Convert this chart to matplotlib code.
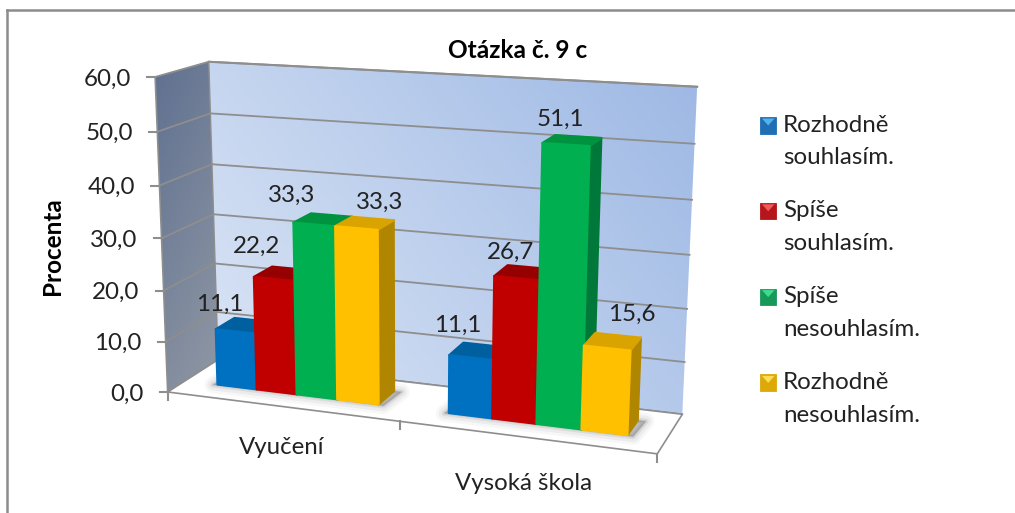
"""Otázka č. 9 c - Excel style 3D column chart, drawn with a small perspective camera."""

import matplotlib
matplotlib.use("Agg")
import matplotlib.pyplot as plt
import numpy as np
from matplotlib.patches import Polygon, Rectangle
from matplotlib.colors import LinearSegmentedColormap

plt.rcParams["font.family"] = ["Lato", "DejaVu Sans"]

categories = ["Vyučení", "Vysoká škola"]
series_names = ["Rozhodně\nsouhlasím.", "Spíše\nsouhlasím.", "Spíše\nnesouhlasím.", "Rozhodně\nnesouhlasím."]
vyuceni = [11.1, 22.2, 33.3, 33.3]
vysoka_skola = [11.1, 26.7, 51.1, 15.6]
y_ticks = [0, 10, 20, 30, 40, 50, 60]

front_colors = ["#0070C0", "#C00000", "#00B050", "#FFC000"]
side_colors = ["#00538F", "#8F0000", "#00783A", "#B08500"]
top_colors = ["#00609F", "#960000", "#00933F", "#D9A300"]
light_colors = ["#55B0EE", "#F25A5A", "#3FDC8C", "#FFDD55"]
swatch_colors = ["#1F6FB5", "#B5161C", "#17995A", "#DDA908"]

# camera calibration: world (x, value, depth) -> picture pixel
WORLD = [(0, 0, 0), (0, 60, 0), (0, 60, 1), (0, 0, 1), (1, 0, 0), (1, 0, 1), (1, 60, 1)]
PIXEL = [(169, 390), (154, 77), (210, 61.5), (216.7, 361.7), (657, 456), (682.7, 412), (697, 87)]


def fit_camera(world, pixel):
    rows = []
    for (x, y, z), (u, v) in zip(world, pixel):
        y = y / 60
        rows.append([x, y, z, 1, 0, 0, 0, 0, -u * x, -u * y, -u * z, -u])
        rows.append([0, 0, 0, 0, x, y, z, 1, -v * x, -v * y, -v * z, -v])
    return np.linalg.svd(np.array(rows))[2][-1].reshape(3, 4)


CAM = fit_camera(WORLD, PIXEL)


def proj(x, y, z):
    p = CAM @ np.array([x, y / 60, z, 1.0])
    return p[0] / p[2], p[1] / p[2]


def gradient_fill(ax, pts, c0, c1, angle):
    pts = np.array(pts)
    x0, y0 = pts.min(axis=0)
    x1, y1 = pts.max(axis=0)
    xx, yy = np.meshgrid(np.linspace(0, 1, 200), np.linspace(0, 1, 200))
    t = xx * np.cos(angle) + (1 - yy) * np.sin(angle)
    t = (t - t.min()) / (t.max() - t.min())
    cmap = LinearSegmentedColormap.from_list("g", [c0, c1])
    im = ax.imshow(t, extent=(x0, x1, y1, y0), cmap=cmap, aspect="auto", zorder=1, interpolation="bilinear")
    clip = Polygon(pts, transform=ax.transData, fc="none", ec="none")
    ax.add_patch(clip)
    im.set_clip_path(clip)


def draw_bar(ax, x0, x1, z0, z1, val, i, zo):
    front = [proj(x0, 0, z0), proj(x1, 0, z0), proj(x1, val, z0), proj(x0, val, z0)]
    side = [proj(x1, 0, z0), proj(x1, 0, z1), proj(x1, val, z1), proj(x1, val, z0)]
    top = [proj(x0, val, z0), proj(x1, val, z0), proj(x1, val, z1), proj(x0, val, z1)]
    ax.add_patch(Polygon(side, fc=side_colors[i], ec=side_colors[i], lw=1.6, joinstyle="round", zorder=zo))
    ax.add_patch(Polygon(top, fc=top_colors[i], ec=top_colors[i], lw=1.6, joinstyle="round", zorder=zo))
    ax.add_patch(Polygon(front, fc=front_colors[i], ec=front_colors[i], lw=1.6, joinstyle="round", zorder=zo + 0.1))


def draw_shadow(ax, x0, x1, z0, z1):
    shadow = [proj(x0 - 0.008, 0, z0 - 0.02), proj(x1 + 0.012, 0, z0 - 0.02), proj(x1 + 0.016, 0, z1), proj(x0, 0, z1)]
    for lw, a in [(12, 0.04), (8, 0.06), (4, 0.09), (1.5, 0.12)]:
        ax.add_patch(Polygon(shadow, fc="#404040", ec="#404040", lw=lw, alpha=a, zorder=3, joinstyle="round"))


fig = plt.figure(figsize=(10.15, 5.13), dpi=100)
ax = fig.add_axes([0, 0, 1, 1])
ax.set_xlim(0, 1015)
ax.set_ylim(513, 0)
ax.axis("off")

# chart frame, only left and top survive in the crop
ax.plot([7, 7], [513, 10], color="#8C8C8C", lw=1.8, zorder=1)
ax.plot([7, 1015], [10, 10], color="#8C8C8C", lw=1.8, zorder=1)

# walls and floor
back = [proj(0, 0, 1), proj(1, 0, 1), proj(1, 60, 1), proj(0, 60, 1)]
left = [proj(0, 0, 0), proj(0, 0, 1), proj(0, 60, 1), proj(0, 60, 0)]
gradient_fill(ax, back, "#DCE6F6", "#9DB8E4", 0.5)
gradient_fill(ax, left, "#9098A4", "#5F7090", 2.0)
gridc = "#8E8E8E"
ax.plot(*zip(proj(0, 60, 1), proj(1, 60, 1)), color=gridc, lw=1.5, zorder=2)
ax.plot(*zip(proj(0, 0, 1), proj(0, 60, 1)), color=gridc, lw=1, zorder=2)
ax.plot(*zip(proj(0, 0, 0), proj(0, 60, 0)), color=gridc, lw=1.2, zorder=2)
for t in y_ticks:
    ax.plot(*zip(proj(0, t, 0), proj(0, t, 1), proj(1, t, 1)), color=gridc, lw=1.3, zorder=2)
    px, py = proj(0, t, 0)
    ax.plot([px - 8, px], [py, py], color=gridc, lw=1.5, zorder=2)
    ax.text(px - 24, py + 2, f"{t:.1f}".replace(".", ","), ha="right", va="center", fontsize=17.4, color="#222222", zorder=5)

# floor
floor = [proj(0, 0, 0), proj(1, 0, 0), proj(1, 0, 1), proj(0, 0, 1)]
ax.add_patch(Polygon(floor, fc="white", ec="none", zorder=2))
ax.plot(*zip(proj(0, 0, 1), proj(1, 0, 1), proj(1, 0, 0), proj(0, 0, 0), proj(0, 0, 1)), color=gridc, lw=1.2, zorder=2.5)
for cx in [0, 0.5, 1]:
    px, py = proj(cx, 0, 0)
    ax.plot([px, px], [py, py + 8], color=gridc, lw=1.5, zorder=2.5)

# bars
gap = 1.66
bar_w = 0.5 / (len(vyuceni) + gap)
z0, z1 = 0.34, 0.72
for g, vals in enumerate([vyuceni, vysoka_skola]):
    start = g * 0.5 + gap * bar_w / 2
    draw_shadow(ax, start, start + 4 * bar_w, z0, z1)
    for i, v in enumerate(vals):
        draw_bar(ax, start + i * bar_w, start + (i + 1) * bar_w, z0, z1, v, i, 4 + g + i * 0.2)

# data labels sit where the original author dragged them
label_xy = [(220, 304), (257, 246), (292, 195), (380, 202), (458, 325), (511, 252), (560, 119), (632, 314)]
for (lx, ly), v in zip(label_xy, vyuceni + vysoka_skola):
    ax.text(lx, ly, f"{v:.1f}".replace(".", ","), ha="center", va="center", fontsize=17.4, color="#222222", zorder=8)

# category labels
ax.text(282, 447, categories[0], ha="center", va="center", fontsize=17.3, color="#222222")
ax.text(524, 483, categories[1], ha="center", va="center", fontsize=17.3, color="#222222")

ax.text(53, 246, "Procenta", rotation=90, ha="center", va="center", fontsize=17.5, fontweight="bold", color="black")
ax.text(518, 50, "Otázka č. 9 c", ha="center", va="center", fontsize=17.6, fontweight="bold", color="black")

# legend
for i, name in enumerate(series_names):
    y0 = 117 + i * 85.8
    ax.add_patch(Rectangle((760, y0), 16.5, 16.5, fc=swatch_colors[i], ec=swatch_colors[i], lw=0.6, zorder=3))
    ax.add_patch(Polygon([(762, y0 + 1.5), (774.5, y0 + 1.5), (768.2, y0 + 8.5)], fc=light_colors[i], ec="none", zorder=4))
    first, second = name.split("\n")
    ax.text(783, y0 + 8, first, ha="left", va="center", fontsize=17.4, color="#222222")
    ax.text(783, y0 + 41, second, ha="left", va="center", fontsize=17.4, color="#222222")

fig.savefig("out.png", dpi=100)
